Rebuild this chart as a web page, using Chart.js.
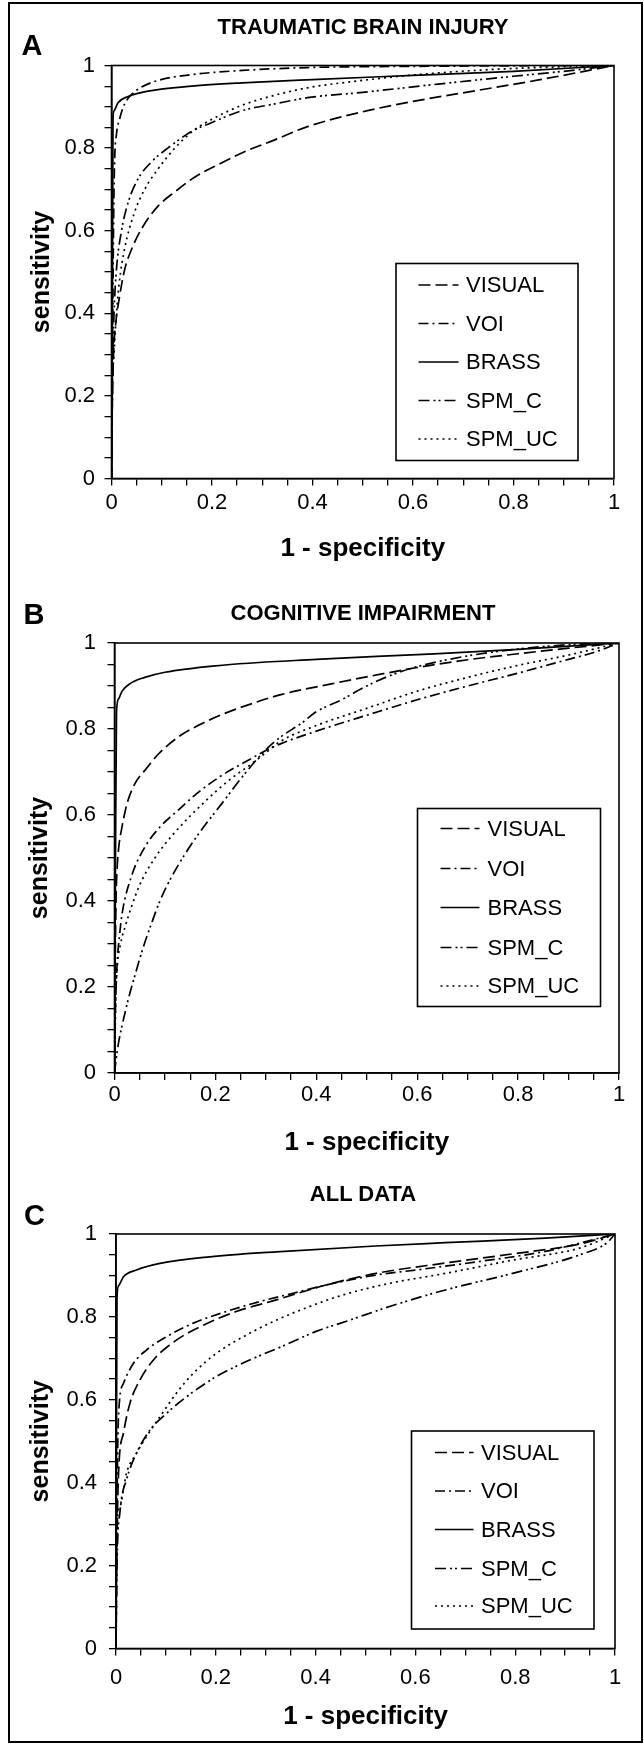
<!DOCTYPE html>
<html>
<head>
<meta charset="utf-8">
<script src="https://cdn.jsdelivr.net/npm/chart.js@4.4.1/dist/chart.umd.min.js"></script>
<style>
html,body{margin:0;padding:0;background:#fff;}
body{width:644px;height:1745px;position:relative;overflow:hidden;font-family:"Liberation Sans",Arial,Helvetica,sans-serif;}
.frame{position:absolute;left:8px;top:2px;width:635px;height:1741px;border:2px solid #000;box-sizing:border-box;}
canvas{position:absolute;left:0;}
.lbl{position:absolute;transform:translate(-50%,-50%);font-weight:bold;line-height:1;white-space:nowrap;color:#000;}
.letter{font-size:29px;}
.title{font-size:22px;}
</style>
</head>
<body>
<div class="frame"></div>
<script>
// ---------- data ----------
const seriesNames = ['VISUAL', 'VOI', 'BRASS', 'SPM_C', 'SPM_UC'];
const tickLabels = ['0', '0.2', '0.4', '0.6', '0.8', '1'];
const panelLetters = ['A', 'B', 'C'];
const panelTitles = ['TRAUMATIC BRAIN INJURY', 'COGNITIVE IMPAIRMENT', 'ALL DATA'];
const xAxisTitle = '1 - specificity';
const yAxisTitle = 'sensitivity';

// Panel A: traumatic brain injury  [1 - specificity, sensitivity]
const A_VISUAL = [[0,0],[0.002,0.2],[0.004,0.3],[0.008,0.37],[0.016,0.44],[0.026,0.505],[0.04,0.555],[0.06,0.605],[0.093,0.66],[0.126,0.694],[0.166,0.73],[0.212,0.76],[0.272,0.795],[0.325,0.82],[0.39,0.852],[0.5,0.888],[0.6,0.913],[0.72,0.938],[0.85,0.965],[1,1]];
const A_VOI = [[0,0],[0.002,0.3],[0.004,0.6],[0.006,0.76],[0.01,0.835],[0.016,0.87],[0.023,0.898],[0.03,0.915],[0.04,0.93],[0.06,0.948],[0.093,0.964],[0.16,0.978],[0.26,0.988],[0.39,0.995],[0.6,0.998],[1,1]];
const A_BRASS = [[0,0],[0.002,0.5],[0.003,0.87],[0.005,0.89],[0.013,0.91],[0.033,0.925],[0.073,0.938],[0.16,0.95],[0.26,0.958],[0.4,0.966],[0.6,0.976],[0.8,0.986],[1,1]];
const A_SPM_C = [[0,0],[0.002,0.25],[0.005,0.4],[0.01,0.508],[0.02,0.6],[0.033,0.668],[0.053,0.726],[0.079,0.766],[0.112,0.8],[0.159,0.84],[0.2,0.862],[0.258,0.89],[0.325,0.907],[0.39,0.922],[0.5,0.935],[0.65,0.955],[0.8,0.974],[0.9,0.986],[1,1]];
const A_SPM_UC = [[0,0],[0.002,0.22],[0.005,0.3],[0.01,0.4],[0.015,0.47],[0.026,0.556],[0.046,0.645],[0.066,0.7],[0.093,0.75],[0.126,0.8],[0.166,0.845],[0.205,0.873],[0.258,0.903],[0.325,0.928],[0.39,0.946],[0.5,0.964],[0.6,0.977],[0.75,0.99],[0.9,0.997],[1,1]];

// Panel B: cognitive impairment
const B_VISUAL = [[0,0],[0.001,0.2],[0.003,0.4],[0.005,0.47],[0.008,0.52],[0.015,0.573],[0.025,0.627],[0.041,0.674],[0.061,0.705],[0.088,0.743],[0.127,0.782],[0.167,0.809],[0.22,0.837],[0.28,0.862],[0.33,0.88],[0.43,0.905],[0.53,0.928],[0.6,0.943],[0.7,0.961],[0.8,0.975],[0.9,0.988],[1,1]];
const B_VOI = [[0,0],[0.002,0.15],[0.005,0.25],[0.01,0.32],[0.015,0.37],[0.035,0.462],[0.06,0.525],[0.09,0.572],[0.127,0.612],[0.16,0.647],[0.21,0.69],[0.266,0.728],[0.3,0.75],[0.33,0.766],[0.4,0.795],[0.5,0.832],[0.6,0.868],[0.7,0.9],[0.8,0.93],[0.9,0.962],[0.95,0.978],[1,1]];
const B_BRASS = [[0,0],[0.002,0.5],[0.004,0.84],[0.008,0.87],[0.015,0.888],[0.03,0.905],[0.06,0.92],[0.1,0.932],[0.2,0.947],[0.4,0.962],[0.6,0.973],[0.8,0.985],[1,1]];
const B_SPM_C = [[0,0],[0.003,0.03],[0.008,0.07],[0.015,0.11],[0.027,0.17],[0.04,0.225],[0.055,0.285],[0.074,0.35],[0.09,0.4],[0.114,0.458],[0.16,0.545],[0.213,0.627],[0.259,0.697],[0.3,0.752],[0.33,0.782],[0.37,0.813],[0.4,0.84],[0.45,0.868],[0.5,0.9],[0.55,0.926],[0.6,0.945],[0.7,0.97],[0.8,0.986],[0.9,0.996],[1,1]];
const B_SPM_UC = [[0,0],[0.002,0.15],[0.005,0.24],[0.012,0.3],[0.021,0.34],[0.048,0.432],[0.08,0.5],[0.12,0.56],[0.18,0.632],[0.226,0.68],[0.273,0.72],[0.3,0.745],[0.33,0.772],[0.4,0.808],[0.5,0.848],[0.6,0.888],[0.7,0.92],[0.8,0.948],[0.9,0.972],[1,1]];

// Panel C: all data
const C_VISUAL = [[0,0],[0.002,0.25],[0.005,0.42],[0.015,0.52],[0.028,0.592],[0.048,0.648],[0.075,0.696],[0.121,0.744],[0.175,0.78],[0.241,0.813],[0.321,0.841],[0.421,0.877],[0.521,0.905],[0.66,0.93],[0.795,0.952],[0.93,0.976],[1,1]];
const C_VOI = [[0,0],[0.002,0.35],[0.005,0.56],[0.015,0.64],[0.035,0.688],[0.061,0.72],[0.095,0.748],[0.155,0.785],[0.221,0.813],[0.288,0.837],[0.355,0.857],[0.421,0.877],[0.521,0.901],[0.6,0.913],[0.73,0.934],[0.86,0.958],[1,1]];
const C_BRASS = [[0,0],[0.001,0.5],[0.002,0.845],[0.005,0.875],[0.015,0.897],[0.041,0.913],[0.088,0.929],[0.188,0.945],[0.321,0.957],[0.52,0.971],[0.66,0.979],[0.86,0.99],[1,1]];
const C_SPM_C = [[0,0],[0.002,0.2],[0.008,0.33],[0.021,0.407],[0.041,0.471],[0.068,0.527],[0.101,0.567],[0.141,0.607],[0.201,0.656],[0.268,0.696],[0.335,0.73],[0.401,0.765],[0.468,0.792],[0.548,0.825],[0.66,0.865],[0.795,0.905],[0.93,0.95],[0.983,0.978],[1,1]];
const C_SPM_UC = [[0,0],[0.001,0.262],[0.008,0.342],[0.021,0.423],[0.041,0.471],[0.061,0.511],[0.088,0.559],[0.121,0.616],[0.155,0.664],[0.201,0.712],[0.255,0.752],[0.321,0.792],[0.388,0.825],[0.455,0.853],[0.548,0.881],[0.66,0.905],[0.795,0.937],[0.929,0.966],[1,1]];

const panelCurves = [
  [A_VISUAL, A_VOI, A_BRASS, A_SPM_C, A_SPM_UC],
  [B_VISUAL, B_VOI, B_BRASS, B_SPM_C, B_SPM_UC],
  [C_VISUAL, C_VOI, C_BRASS, C_SPM_C, C_SPM_UC]
];

// ---------- styles / layout ----------
const FONT = '"Liberation Sans", Arial, Helvetica, sans-serif';
const lineDashes = [[12,5], [10,4,2,4], [], [11,4,2,3,2,4], [2,4]];

const layouts = [
  {top:0, h:575, L:111.5, R:614, T:65.5, B:478.5, xTickPad:4.5, yTickPad:9.5, xTitlePad:11, yTitlePad:27.5,
   legend:{x1:396, y1:263.5, x2:578, y2:460.5, lx1:418.5, lx2:458.5, tx:466, rows:[285,323.5,362,400.5,439]},
   letter:[32,45], title:[363,26.5]},
  {top:575, h:585, L:114.5, R:619, T:643, B:1073, xTickPad:1.5, yTickPad:11.5, xTitlePad:1.5, yTitlePad:25.5,
   legend:{x1:417.5, y1:808.5, x2:600.5, y2:1006.5, lx1:440.5, lx2:479.5, tx:487.5, rows:[828.5,868.5,907.5,947.5,986]},
   letter:[34,614], title:[363,612.5]},
  {top:1160, h:585, L:116, R:615, T:1234, B:1648.5, xTickPad:9.5, yTickPad:12, xTitlePad:13, yTitlePad:26.5,
   legend:{x1:411.5, y1:1431, x2:594, y2:1629, lx1:435, lx2:473.5, tx:481, rows:[1452.5,1491,1529.5,1568.5,1606]},
   letter:[34.5,1215], title:[363,1194]}
];

const framePlugin = {
  id: 'plotFrame',
  afterDatasetsDraw(chart) {
    const a = chart.chartArea, ctx = chart.ctx;
    ctx.save();
    ctx.strokeStyle = '#000';
    ctx.lineWidth = 1.6;
    ctx.setLineDash([]);
    ctx.strokeRect(a.left, a.top, a.right - a.left, a.bottom - a.top);
    ctx.restore();
  }
};

function boxLegend(lay) {
  return {
    id: 'boxLegend',
    afterDraw(chart) {
      const ctx = chart.ctx, L = lay.legend, off = lay.top;
      ctx.save();
      ctx.fillStyle = '#fff';
      ctx.fillRect(L.x1, L.y1 - off, L.x2 - L.x1, L.y2 - L.y1);
      ctx.strokeStyle = '#000';
      ctx.lineWidth = 1.6;
      ctx.setLineDash([]);
      ctx.strokeRect(L.x1, L.y1 - off, L.x2 - L.x1, L.y2 - L.y1);
      chart.data.datasets.forEach((ds, i) => {
        const y = L.rows[i] - off;
        ctx.setLineDash(ds.borderDash || []);
        ctx.lineWidth = ds.borderWidth;
        ctx.beginPath();
        ctx.moveTo(L.lx1, y);
        ctx.lineTo(L.lx2, y);
        ctx.stroke();
        ctx.setLineDash([]);
        ctx.fillStyle = '#000';
        ctx.font = '22px ' + FONT;
        ctx.textBaseline = 'middle';
        ctx.textAlign = 'left';
        ctx.fillText(ds.label, L.tx, y + 1);
      });
      ctx.restore();
    }
  };
}

function tickCb(v) {
  const k = Math.round(v * 20);
  return (k % 4 === 0) ? tickLabels[k / 4] : '';
}

function addLabel(cls, text, x, y) {
  const d = document.createElement('div');
  d.className = 'lbl ' + cls;
  d.textContent = text;
  d.style.left = x + 'px';
  d.style.top = y + 'px';
  document.body.appendChild(d);
}

function makePanel(idx) {
  const lay = layouts[idx];
  const cv = document.createElement('canvas');
  cv.width = 644; cv.height = lay.h;
  cv.style.top = lay.top + 'px';
  cv.style.width = '644px'; cv.style.height = lay.h + 'px';
  document.body.appendChild(cv);

  const datasets = panelCurves[idx].map((pts, i) => ({
    label: seriesNames[i],
    data: pts.map(p => ({x: p[0], y: p[1]})),
    showLine: true,
    borderColor: '#000',
    backgroundColor: '#000',
    borderWidth: 1.7,
    borderDash: lineDashes[i],
    pointRadius: 0,
    pointHoverRadius: 0,
    fill: false,
    tension: 0,
    cubicInterpolationMode: 'monotone'
  }));

  const axisCommon = {
    type: 'linear', min: 0, max: 1,
    grid: {display: true, drawOnChartArea: false, drawTicks: true, tickLength: 7, color: '#000', lineWidth: 1.3},
    border: {display: true, color: '#000', width: 1.6}
  };

  new Chart(cv, {
    type: 'scatter',
    data: {datasets},
    options: {
      responsive: false, animation: false, devicePixelRatio: 1,
      layout: {padding: {left: 0, top: lay.T - lay.top, right: 644 - lay.R, bottom: 0}},
      plugins: {legend: {display: false}, tooltip: {enabled: false}},
      scales: {
        x: Object.assign({}, axisCommon, {
          position: 'bottom',
          ticks: {stepSize: 0.05, autoSkip: false, maxRotation: 0, minRotation: 0, padding: lay.xTickPad, color: '#000',
                  font: {family: FONT, size: 22}, callback: tickCb},
          title: {display: true, text: xAxisTitle, color: '#000',
                  font: {family: FONT, size: 26, weight: 'bold'}, padding: {top: 0, bottom: lay.xTitlePad}},
          afterFit: s => { s.height = lay.top + lay.h - lay.B; }
        }),
        y: Object.assign({}, axisCommon, {
          position: 'left',
          ticks: {stepSize: 0.05, autoSkip: false, padding: lay.yTickPad, color: '#000',
                  font: {family: FONT, size: 22}, callback: tickCb},
          title: {display: true, text: yAxisTitle, color: '#000',
                  font: {family: FONT, size: 25, weight: 'bold'}, padding: {top: lay.yTitlePad, bottom: 0}},
          afterFit: s => { s.width = lay.L; }
        })
      }
    },
    plugins: [framePlugin, boxLegend(lay)]
  });

  addLabel('letter', panelLetters[idx], lay.letter[0], lay.letter[1]);
  addLabel('title', panelTitles[idx], lay.title[0], lay.title[1]);
}

[0, 1, 2].forEach(makePanel);
</script>
</body>
</html>
